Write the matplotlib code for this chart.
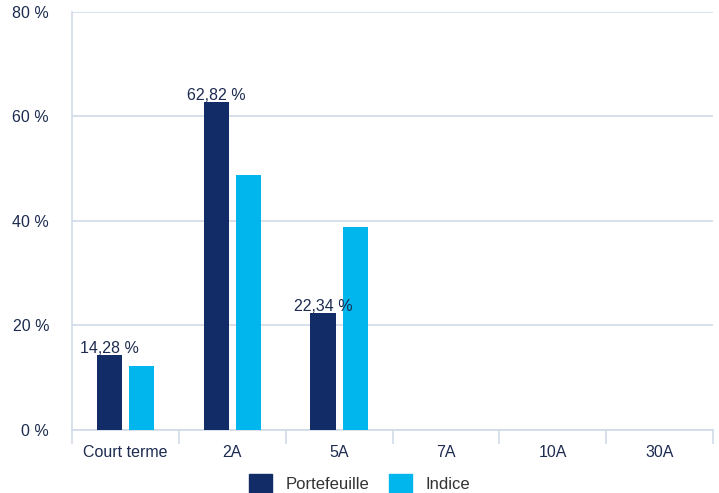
import matplotlib
matplotlib.use("Agg")
import matplotlib.pyplot as plt
import numpy as np
from matplotlib.patches import Patch

categories = ["Court terme", "2A", "5A", "7A", "10A", "30A"]
portefeuille = [14.28, 62.82, 22.34, 0, 0, 0]
indice = [12.2, 48.8, 38.9, 0, 0, 0]
labels_portefeuille = ["14,28 %", "62,82 %", "22,34 %", "", "", ""]
yticks = [0, 20, 40, 60, 80]

NAVY = "#112c66"
CYAN = "#00b6ec"
GRID = "#d0dae7"
TXT = "#1c2b4f"

plt.rcParams['font.family'] = ['Liberation Sans', 'DejaVu Sans']

fig = plt.figure(figsize=(7.19, 4.93), dpi=100)
ax = fig.add_axes([0.1001, 0.1278, 0.8916, 0.8479])

x = np.arange(len(categories))
w = 0.235
off = 0.15
ax.bar(x - off, portefeuille, w, color=NAVY, zorder=3)
ax.bar(x + off, indice, w, color=CYAN, zorder=3)

for xi, v, lab in zip(x, portefeuille, labels_portefeuille):
    if lab:
        ax.text(xi - off, v - 0.2, lab, ha="center", va="bottom", fontsize=11.5, color=TXT, zorder=4)

ax.set_xlim(-0.5, len(categories) - 0.5)
ax.set_ylim(0, 80)
ax.set_yticks(yticks)
ax.set_yticklabels([f"{t} %" for t in yticks])
ax.yaxis.grid(True, color=GRID, linewidth=1.2, zorder=0)
ax.set_xticks(x)
ax.set_xticklabels(categories)
ax.tick_params(axis="x", length=0, pad=11, labelsize=11.5, labelcolor=TXT)
ax.tick_params(axis="y", length=0, pad=16.5, labelsize=11.5, labelcolor=TXT)

# category boundary ticks
ax.set_xticks(np.arange(-0.5, len(categories)), minor=True)
ax.tick_params(axis="x", which="minor", length=10, color=GRID, width=1.2)

for s in ["top", "right"]:
    ax.spines[s].set_visible(False)
ax.spines["left"].set_color(GRID)
ax.spines["left"].set_linewidth(1.2)
ax.spines["bottom"].set_color(GRID)
ax.spines["bottom"].set_linewidth(1.2)

handles = [Patch(color=NAVY, label="Portefeuille"), Patch(color=CYAN, label="Indice")]
fig.legend(handles=handles, loc="lower center", bbox_to_anchor=(0.5, -0.03), ncol=2,
           frameon=False, fontsize=12, handlelength=1.4, handleheight=1.4,
           columnspacing=1.2, handletextpad=0.8, labelcolor="#333333")

fig.savefig("out.png", dpi=100)
